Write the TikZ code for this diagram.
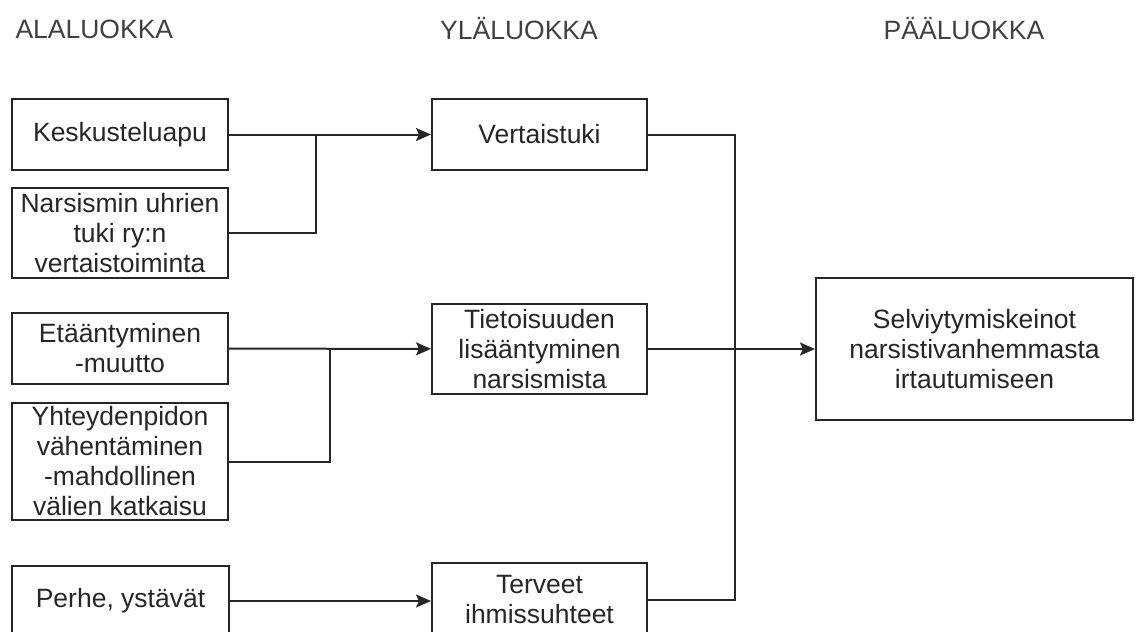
\documentclass[tikz,border=0pt]{standalone}
\usepackage{fontspec}
\setmainfont{Liberation Sans}
\usetikzlibrary{arrows.meta}
\begin{document}
\begin{tikzpicture}[x=1pt,y=-1pt,
  every node/.style={font=\fontsize{26.5}{30}\selectfont, text=black!85},
  box/.style={draw=black!85, line width=2pt, align=center, inner sep=0pt, anchor=center},
  line/.style={draw=black!85, line width=2pt},
  arr/.style={line, -{Stealth[length=15pt,width=13pt,inset=3pt]}},
  head/.style={anchor=west, text=black!75}]
\useasboundingbox (0,0) rectangle (1136,632);
\clip (0,0) rectangle (1136,632);
% headers
\node[head] (h1) at (12,29) {ALALUOKKA};
\node[head, anchor=center] (h2) at (519,29) {YLÄLUOKKA};
\node[head, anchor=center] (h3) at (964,29) {PÄÄLUOKKA};
% left column
\node[box, minimum width=216pt, minimum height=71pt] (kes) at (120,134.5) {Keskusteluapu};
\node[box, minimum width=216pt, minimum height=90pt] (nar) at (120,233) {Narsismin uhrien\\tuki ry:n\\vertaistoiminta};
\node[box, minimum width=216pt, minimum height=71pt] (eta) at (120,348.5) {Etääntyminen\\-muutto};
\node[box, minimum width=216pt, minimum height=117pt] (yht) at (120,461.5) {Yhteydenpidon\\vähentäminen\\-mahdollinen\\välien katkaisu};
\node[box, minimum width=217pt, minimum height=70pt] (per) at (120.5,601) {Perhe, ystävät};
% middle column
\node[box, minimum width=215pt, minimum height=71pt] (ver) at (539.5,134.5) {Vertaistuki};
\node[box, minimum width=215pt, minimum height=90pt] (tie) at (539.5,349) {Tietoisuuden\\lisääntyminen\\narsismista};
\node[box, minimum width=215pt, minimum height=74pt] (ter) at (539.5,600) {Terveet\\ihmissuhteet};
% right
\node[box, minimum width=317pt, minimum height=142pt] (sel) at (974.5,349) {Selviytymiskeinot\\narsistivanhemmasta\\irtautumiseen};
% junctions
\coordinate (j1) at (316,134.5);
\coordinate (j2) at (330,348.5);
\coordinate (j3a) at (735,134.5);
\coordinate (j3b) at (735,600);
% connectors
\draw[arr] (kes) -- (ver);
\draw[line] (nar.east) -| (j1);
\draw[arr] (eta) -- (tie);
\draw[line] (yht.east) -| (j2);
\draw[arr] (per.east) -- (ter.west |- per.east);
\draw[arr] (tie) -- (sel);
\draw[line] (ver.east) -- (j3a) -- (j3b) -- (ter.east |- j3b);
\end{tikzpicture}
\end{document}
